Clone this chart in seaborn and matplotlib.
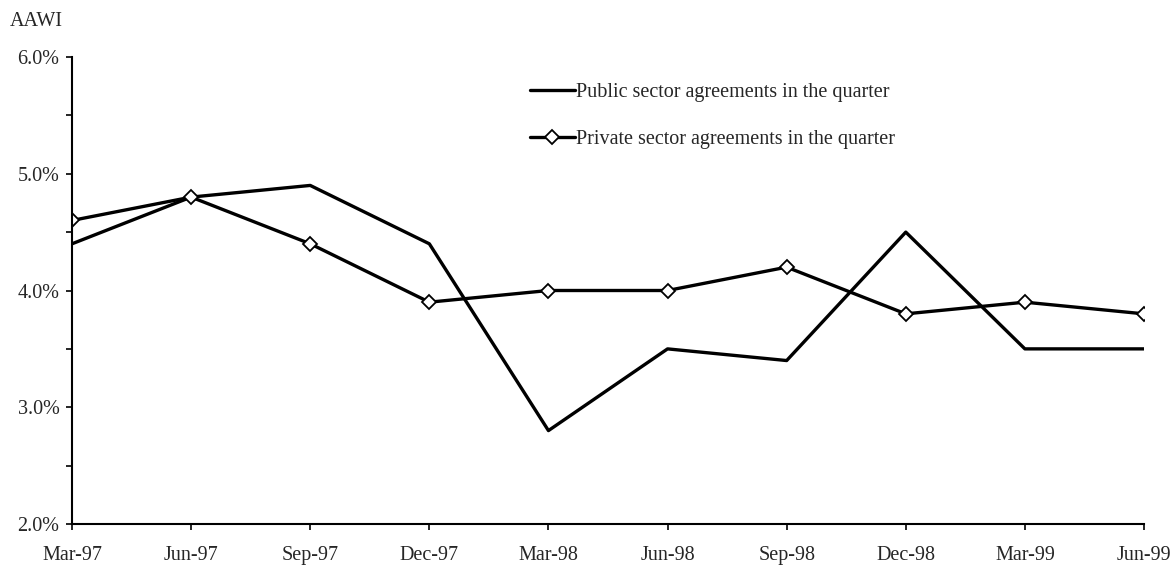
import matplotlib
matplotlib.use("Agg")
import matplotlib.pyplot as plt
import seaborn as sns
import pandas as pd
from matplotlib.ticker import FuncFormatter, MultipleLocator

quarters = ["Mar-97", "Jun-97", "Sep-97", "Dec-97", "Mar-98", "Jun-98",
            "Sep-98", "Dec-98", "Mar-99", "Jun-99"]
public = [4.4, 4.8, 4.9, 4.4, 2.8, 3.5, 3.4, 4.5, 3.5, 3.5]
private = [4.6, 4.8, 4.4, 3.9, 4.0, 4.0, 4.2, 3.8, 3.9, 3.8]
pub_label = "Public sector agreements in the quarter"
priv_label = "Private sector agreements in the quarter"

sns.set_theme(style="white")
plt.rcParams['font.family'] = ['Liberation Serif', 'DejaVu Serif']
plt.rcParams['mathtext.default'] = 'regular'

FS = 14.5

fig = plt.figure(figsize=(11.72, 5.67), dpi=100)
ax = fig.add_axes([72/1172, 1-524/567, (1144-72)/1172, (524-57)/567])

idx = list(range(len(quarters)))
df_pub = pd.DataFrame({"x": idx, "y": public})
df_priv = pd.DataFrame({"x": idx, "y": private})

sns.lineplot(data=df_pub, x="x", y="y", ax=ax, color="black", linewidth=2.4,
             label=pub_label)
sns.lineplot(data=df_priv, x="x", y="y", ax=ax, color="black", linewidth=2.4,
             marker="D", markersize=7, markerfacecolor="white",
             markeredgecolor="black", markeredgewidth=1.3, label=priv_label)

ax.set_xlim(0, len(quarters) - 1)
ax.set_ylim(2.0, 6.0)
ax.set_xticks(idx)
ax.set_xticklabels(quarters, fontsize=FS)
ax.yaxis.set_major_locator(MultipleLocator(1.0))
ax.yaxis.set_minor_locator(MultipleLocator(0.5))
ax.yaxis.set_major_formatter(FuncFormatter(lambda v, p: f"{v:.1f}%"))
ax.tick_params(axis="y", labelsize=FS, pad=5)
ax.tick_params(axis="both", which="both", direction="out", length=4, width=1.2,
               color="black", left=True, bottom=True)
ax.tick_params(axis="x", pad=12)
ax.set_xlabel("")
ax.set_ylabel("")
for s in ["top", "right"]:
    ax.spines[s].set_visible(False)
for s in ["left", "bottom"]:
    ax.spines[s].set_color("black")
    ax.spines[s].set_linewidth(1.5)
ax.grid(False)

leg = ax.legend(loc="upper left", bbox_to_anchor=(0.42, 0.961), frameon=False,
                fontsize=FS, handlelength=2.2, handletextpad=0.05,
                labelspacing=1.35, borderaxespad=0)

fig.text(10/1172, 1-22/567, "AAWI", fontsize=FS, va="center", ha="left")

fig.savefig("out.png", dpi=100, facecolor="white")
